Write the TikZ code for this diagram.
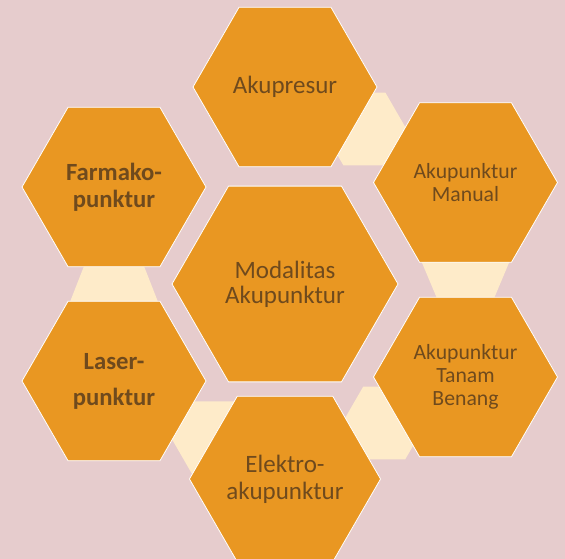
\documentclass[tikz,border=0pt]{standalone}
\usepackage{fontspec}
\setmainfont{Carlito}
\usetikzlibrary{calc,shapes.geometric}
\definecolor{bgpink}{HTML}{E6CCCD}
\definecolor{hexorange}{HTML}{E99722}
\definecolor{hexcream}{HTML}{FEEBC9}
\definecolor{hextext}{HTML}{6F4A1D}
\begin{document}
\begin{tikzpicture}[x=1pt,y=-1pt,
hx/.style={regular polygon,regular polygon sides=6,fill=hexorange,draw=white,line width=.8pt,inner sep=0pt,minimum size=184pt,text=hextext,align=center},
cr/.style={regular polygon,regular polygon sides=6,fill=hexcream,inner sep=0pt,minimum size=84pt}]
\fill[bgpink](0,0)rectangle(565,559);\useasboundingbox(0,0)rectangle(565,559);
\coordinate(a)at(285,87);\coordinate(m)at(465.5,182.5);\coordinate(t)at(465.5,377);\coordinate(e)at(285,479);\coordinate(l)at(114,381);\coordinate(f)at(114,187);\coordinate(c)at(285,284);
\fill[hexcream]($(f)+(-28,74)$)--($(f)+(28,74)$)--($(l)+(46,-74)$)--($(l)+(-46,-74)$)--cycle;
\fill[hexcream]($(m)+(-45.5,75.5)$)--($(m)+(45.5,75.5)$)--($(t)+(27,-75)$)--($(t)+(-27,-75)$)--cycle;
\node[cr](am)at($(a)!.44!(m)$){};\node[cr](te)at($(t)!.45!(e)$){};\node[cr](le)at($(l)!.58!(e)$){};
\node[hx,minimum size=226pt,font=\fontsize{25}{25}\selectfont](mod)at(c){Modalitas\\Akupunktur};
\node[hx,font=\fontsize{25}{25}\selectfont](aku)at(a){Akupresur};
\node[hx,font=\fontsize{21.7}{23}\selectfont](man)at(m){Akupunktur\\Manual};
\node[hx,font=\fontsize{21.7}{23.3}\selectfont](tan)at(t){Akupunktur\\Tanam\\Benang};
\node[hx,font=\fontsize{25}{26.7}\selectfont](ele)at(e){Elektro-\\akupunktur};
\node[hx,font=\fontsize{24.7}{36}\selectfont\bfseries](las)at(l){Laser-\\punktur};
\node[hx,font=\fontsize{24.7}{27}\selectfont\bfseries](far)at(f){Farmako-\\punktur};
\end{tikzpicture}
\end{document}
